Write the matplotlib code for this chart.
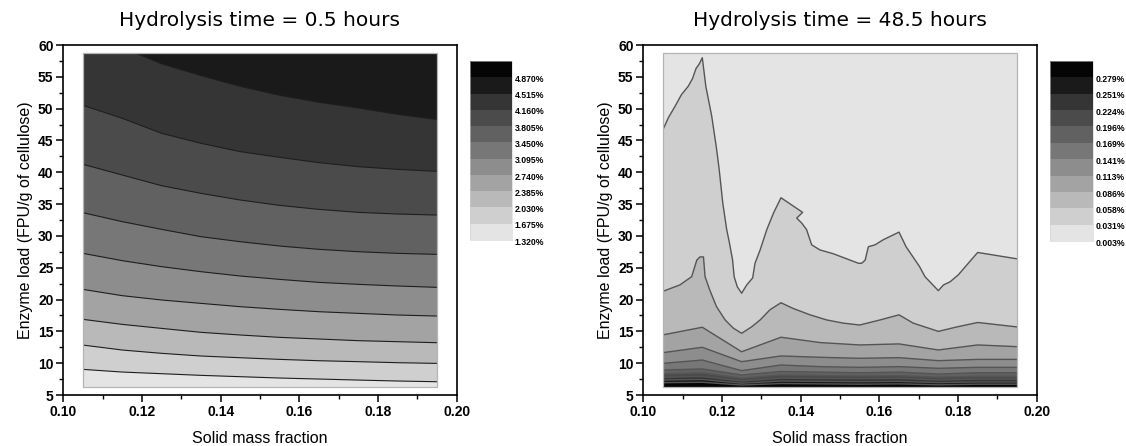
import matplotlib
matplotlib.use("Agg")
import matplotlib.pyplot as plt
from matplotlib.colors import ListedColormap, BoundaryNorm
from matplotlib.cm import ScalarMappable
from matplotlib.patches import Rectangle, Polygon
from matplotlib.transforms import ScaledTranslation
import numpy as np

# simulated domain (solid fraction x enzyme load)
X_RANGE = [0.105, 0.195]
Y_RANGE = [6.25, 58.75]
GRID_X = [0.105, 0.115, 0.125, 0.135, 0.145, 0.155, 0.165, 0.175, 0.185, 0.195]

# grey steps of both legends, lowest level first
GREYS = ["#e4e4e4", "#cfcfcf", "#b9b9b9", "#a3a3a3", "#8d8d8d", "#777777",
         "#616161", "#4b4b4b", "#353535", "#1a1a1a", "#050505"]

# ---- 0.5 h: glucose yield levels [%] and enzyme load of each contour per GRID_X
LEVELS_05 = [1.320, 1.675, 2.030, 2.385, 2.740, 3.095, 3.450, 3.805, 4.160, 4.515, 4.870]
C05_1675 = [9.03, 8.61, 8.35, 8.09, 7.88, 7.67, 7.51, 7.35, 7.20, 7.09]
C05_2030 = [12.85, 12.07, 11.55, 11.13, 10.86, 10.60, 10.39, 10.24, 10.08, 9.97]
C05_2385 = [16.89, 16.10, 15.47, 14.85, 14.43, 14.06, 13.80, 13.54, 13.38, 13.22]
C05_2740 = [21.60, 20.61, 19.93, 19.40, 18.88, 18.46, 18.09, 17.83, 17.57, 17.41]
C05_3095 = [27.26, 26.11, 25.17, 24.38, 23.70, 23.17, 22.70, 22.39, 22.13, 21.92]
C05_3450 = [33.65, 32.24, 31.03, 29.88, 29.09, 28.41, 27.89, 27.52, 27.26, 27.10]
C05_3805 = [41.25, 39.57, 37.89, 36.69, 35.64, 34.80, 34.17, 33.70, 33.44, 33.28]
C05_4160 = [50.52, 48.48, 46.12, 44.55, 43.24, 42.35, 41.51, 40.88, 40.46, 40.15]
C05_4515 = [61.50, 59.60, 57.05, 55.20, 53.50, 52.10, 51.00, 50.10, 49.10, 48.30]

# ---- 48.5 h
LEVELS_485 = [0.003, 0.031, 0.058, 0.086, 0.113, 0.141, 0.169, 0.196, 0.224, 0.251, 0.279]
C485_031_X = [0.105, 0.105, 0.1064, 0.1081, 0.1097, 0.1114, 0.1125, 0.1134, 0.1142, 0.115,
              0.1159, 0.1174, 0.1186, 0.1193, 0.1202, 0.1212, 0.1219, 0.1227, 0.1231, 0.1239,
              0.125, 0.1263, 0.1278, 0.1284, 0.1297, 0.1314, 0.1331, 0.135, 0.1405, 0.139,
              0.1403, 0.1415, 0.1428, 0.1449, 0.1483, 0.1517, 0.1547, 0.1555, 0.1564, 0.1572,
              0.1589, 0.161, 0.165, 0.1668, 0.1691, 0.1702, 0.1716, 0.175, 0.1763, 0.178,
              0.1801, 0.1826, 0.185, 0.195]
C485_031_Y = [48.7, 46.7, 48.6, 50.4, 52.2, 53.5, 54.7, 56.3, 57.0, 58.0,
              53.5, 48.8, 43.8, 40.4, 35.2, 31.0, 28.9, 26.2, 23.6, 22.0,
              21.0, 22.3, 23.4, 25.7, 27.8, 31.0, 33.6, 36.0, 33.7, 32.8,
              32.0, 31.0, 28.6, 27.8, 27.2, 26.4, 25.7, 25.7, 26.2, 28.3,
              28.6, 29.4, 30.6, 28.3, 26.2, 25.2, 23.6, 21.4, 22.3, 22.8,
              23.9, 25.7, 27.4, 26.4]
C485_058_X = [0.105, 0.105, 0.1093, 0.1123, 0.1136, 0.1144, 0.1153, 0.1157, 0.1169, 0.1186,
              0.1208, 0.1229, 0.125, 0.1275, 0.1297, 0.1322, 0.135, 0.1381, 0.1424, 0.1466,
              0.1508, 0.155, 0.1602, 0.165, 0.1686, 0.175, 0.1797, 0.185, 0.195]
C485_058_Y = [18.6, 21.3, 22.3, 23.6, 26.2, 26.7, 26.7, 23.6, 21.5, 18.9,
              16.8, 15.5, 14.7, 15.7, 16.8, 18.4, 19.5, 18.6, 17.6, 16.8,
              16.3, 16.0, 16.8, 17.6, 16.3, 15.0, 15.7, 16.4, 15.7]
C485_086 = [14.45, 15.65, 11.80, 14.08, 13.24, 12.87, 13.03, 12.08, 12.87, 12.60]
C485_113 = [11.66, 12.50, 10.24, 11.14, 10.93, 10.77, 10.87, 10.40, 10.60, 10.60]
C485_141 = [9.98, 10.50, 8.83, 9.72, 9.46, 9.35, 9.46, 9.20, 9.35, 9.35]
C485_169 = [8.93, 9.10, 8.15, 8.70, 8.60, 8.50, 8.60, 8.30, 8.50, 8.50]
C485_196 = [8.30, 8.45, 7.65, 8.15, 8.05, 8.00, 8.05, 7.80, 7.95, 7.95]
C485_224 = [7.78, 7.90, 7.20, 7.65, 7.60, 7.55, 7.60, 7.35, 7.50, 7.50]
C485_251 = [7.36, 7.45, 6.85, 7.20, 7.15, 7.10, 7.15, 6.95, 7.05, 7.05]
C485_279 = [6.94, 7.00, 6.57, 6.80, 6.75, 6.70, 6.75, 6.60, 6.70, 6.70]

TITLES = ["Hydrolysis time = 0.5 hours", "Hydrolysis time = 48.5 hours"]


def draw_panel(ax, top_color, curves, line_color, line_width):
    """curves: (x, y, colour below the curve), painted from top to bottom."""
    x0, x1 = X_RANGE
    y0, y1 = Y_RANGE
    bg = Rectangle((x0, y0), x1 - x0, y1 - y0, facecolor=top_color,
                   edgecolor="none", zorder=1)
    ax.add_patch(bg)
    for i, (cx, cy, col) in enumerate(curves):
        pts = list(zip(cx, cy)) + [(cx[-1], y0), (cx[0], y0)]
        poly = Polygon(pts, closed=True, facecolor=col, edgecolor="none", zorder=2 + i)
        ax.add_patch(poly)
        poly.set_clip_path(bg)
    for cx, cy, _ in curves:
        ln, = ax.plot(cx, cy, color=line_color, lw=line_width, zorder=40)
        ln.set_clip_path(bg)
    ax.add_patch(Rectangle((x0, y0), x1 - x0, y1 - y0, fill=False,
                           edgecolor="#b4b4b4", lw=0.9, zorder=50))

    ax.set_xlim(0.10, 0.20)
    ax.set_ylim(5, 60)
    ax.set_xticks(np.arange(0.10, 0.2001, 0.02))
    ax.set_xticks(np.arange(0.11, 0.2, 0.02), minor=True)
    ax.set_yticks(np.arange(5, 60.1, 5))
    ax.set_yticks(np.arange(7.5, 60, 5), minor=True)
    ax.xaxis.set_major_formatter(plt.FormatStrFormatter("%.2f"))
    ax.tick_params(which="major", direction="out", length=5, width=1.1,
                   labelsize=10, pad=2)
    ax.tick_params(which="minor", direction="out", length=3, width=1.0)
    for lab in ax.get_xticklabels() + ax.get_yticklabels():
        lab.set_fontweight("bold")
    for s in ax.spines.values():
        s.set_linewidth(1.2)
    ax.set_xlabel("Solid mass fraction", fontsize=11.5, labelpad=9)
    ax.set_ylabel("Enzyme load (FPU/g of cellulose)", fontsize=11.5, labelpad=4)


def draw_legend(fig, rect, levels):
    cax = fig.add_axes(rect)
    step = levels[1] - levels[0]
    bounds = levels + [levels[-1] + step]
    norm = BoundaryNorm(bounds, len(GREYS))
    sm = ScalarMappable(norm=norm, cmap=ListedColormap(GREYS))
    cb = fig.colorbar(sm, cax=cax, ticks=levels, spacing="uniform")
    cb.ax.minorticks_off()
    cb.outline.set_linewidth(0.4)
    cb.outline.set_edgecolor("#d0d0d0")
    cb.ax.tick_params(length=0, pad=2, labelsize=6.2)
    cb.ax.set_yticklabels([f"{v:.3f}%" for v in levels], fontweight="bold")
    shift = ScaledTranslation(0, -0.8 / 72, fig.dpi_scale_trans)
    for lab in cb.ax.get_yticklabels():
        lab.set_transform(lab.get_transform() + shift)


plt.rcParams["font.family"] = ["Liberation Sans", "DejaVu Sans"]
fig = plt.figure(figsize=(11.26, 4.46), dpi=100)

ax1 = fig.add_axes([0.0562, 0.1143, 0.3494, 0.7848])
curves05 = [(GRID_X, C05_4515, GREYS[8]), (GRID_X, C05_4160, GREYS[7]),
            (GRID_X, C05_3805, GREYS[6]), (GRID_X, C05_3450, GREYS[5]),
            (GRID_X, C05_3095, GREYS[4]), (GRID_X, C05_2740, GREYS[3]),
            (GRID_X, C05_2385, GREYS[2]), (GRID_X, C05_2030, GREYS[1]),
            (GRID_X, C05_1675, GREYS[0])]
draw_panel(ax1, GREYS[9], curves05, "#1e1e1e", 0.8)
ax1.set_title(TITLES[0], fontsize=14.5, family="DejaVu Sans", pad=14)

ax2 = fig.add_axes([0.5713, 0.1143, 0.3494, 0.7848])
curves485 = [(C485_031_X, C485_031_Y, GREYS[1]), (C485_058_X, C485_058_Y, GREYS[2]),
             (GRID_X, C485_086, GREYS[3]), (GRID_X, C485_113, GREYS[4]),
             (GRID_X, C485_141, GREYS[5]), (GRID_X, C485_169, GREYS[6]),
             (GRID_X, C485_196, GREYS[7]), (GRID_X, C485_224, GREYS[8]),
             (GRID_X, C485_251, GREYS[9]), (GRID_X, C485_279, GREYS[10])]
draw_panel(ax2, GREYS[0], curves485, "#555555", 1.0)
ax2.set_title(TITLES[1], fontsize=14.5, family="DejaVu Sans", pad=14)

draw_legend(fig, [0.4174, 0.4619, 0.0373, 0.4013], LEVELS_05)
draw_legend(fig, [0.9325, 0.4596, 0.0382, 0.4036], LEVELS_485)

fig.savefig("out.png", dpi=100)
